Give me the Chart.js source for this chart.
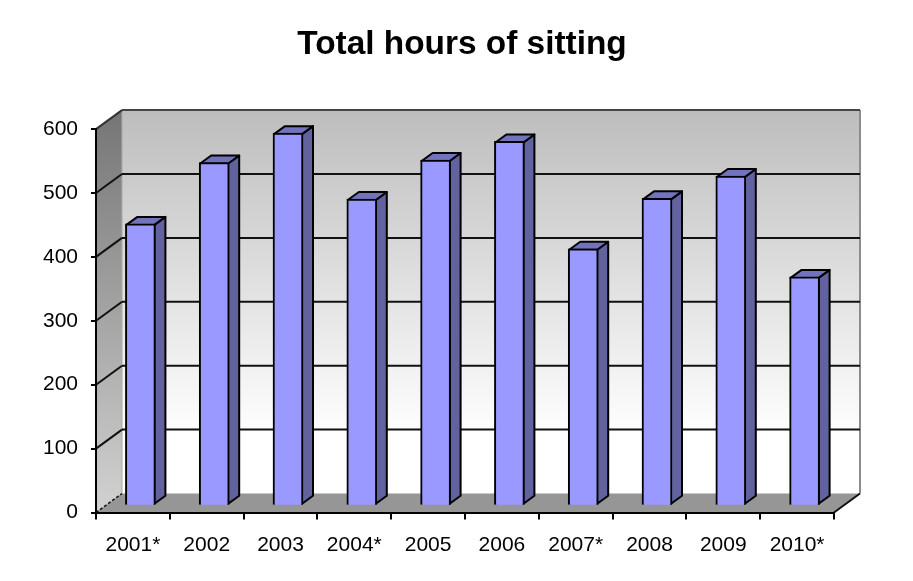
<!DOCTYPE html>
<html><head><meta charset="utf-8">
<style>html,body{margin:0;padding:0;background:#fff}canvas{display:block}</style>
<script src="https://cdn.jsdelivr.net/npm/chart.js@4"></script>
</head><body><canvas id="c" width="913" height="581"></canvas>
<script>
const categories = ['2001*','2002','2003','2004*','2005','2006','2007*','2008','2009','2010*'];
const hours = [441,537,583,480,541,570,402,481,516,358];
const yTicks = [0,100,200,300,400,500,600];
const titleText = 'Total hours of sitting';

const WALL_DX = 26, WALL_DY = -19;
const BAR_SHIFT_X = 7.5, BAR_SHIFT_Y = -6.8;
const BAR_DX = 11, BAR_DY = -8;

function poly(ctx, pts, fill, stroke, lw) {
  ctx.beginPath();
  pts.forEach((p,i)=> i ? ctx.lineTo(p[0],p[1]) : ctx.moveTo(p[0],p[1]));
  ctx.closePath();
  if (fill) { ctx.fillStyle = fill; ctx.fill(); }
  if (stroke) { ctx.strokeStyle = stroke; ctx.lineWidth = lw; ctx.lineJoin='round'; ctx.stroke(); }
}
function line(ctx,x0,y0,x1,y1,col,lw){ctx.beginPath();ctx.moveTo(x0,y0);ctx.lineTo(x1,y1);ctx.strokeStyle=col;ctx.lineWidth=lw;ctx.stroke();}

const walls = {
  id:'walls',
  beforeDraw(chart){
    const {ctx, chartArea:a, scales:{y}} = chart;
    const L=a.left,R=a.right,T=y.getPixelForValue(600),B=y.getPixelForValue(0);
    ctx.save();
    let g = ctx.createLinearGradient(0,T+WALL_DY,0,B+WALL_DY);
    g.addColorStop(0,'#bdbdbd'); g.addColorStop(0.85,'#ffffff'); g.addColorStop(1,'#ffffff');
    poly(ctx,[[L+WALL_DX,T+WALL_DY],[R+WALL_DX,T+WALL_DY],[R+WALL_DX,B+WALL_DY],[L+WALL_DX,B+WALL_DY]],g);
    g = ctx.createLinearGradient(0,T+WALL_DY,0,B);
    g.addColorStop(0,'#757575'); g.addColorStop(1,'#d2d2d2');
    poly(ctx,[[L,T],[L+WALL_DX,T+WALL_DY],[L+WALL_DX,B+WALL_DY],[L,B]],g);
    poly(ctx,[[L,B],[L+WALL_DX,B+WALL_DY],[R+WALL_DX,B+WALL_DY],[R,B]],'#969696');
    line(ctx,R+WALL_DX,T+WALL_DY,R+WALL_DX,B+WALL_DY,'#8c8c8c',2);
    line(ctx,L+WALL_DX,B+WALL_DY,L+WALL_DX,T+WALL_DY,'#aaaaaa',1);
    yTicks.forEach(v=>{
      const p=y.getPixelForValue(v);
      if(v>0 && v<600) line(ctx,L+WALL_DX,p+WALL_DY,R+WALL_DX,p+WALL_DY,'#111',2);
      if(v>0) line(ctx,L,p,L+WALL_DX,p+WALL_DY,v===600?'#333':'#111',2);
    });
    line(ctx,L+WALL_DX,T+WALL_DY,R+WALL_DX,T+WALL_DY,'#444',2);
    ctx.setLineDash([3,2]);
    line(ctx,L,B,L+WALL_DX,B+WALL_DY,'#111',1.5);
    ctx.setLineDash([]);
    line(ctx,R,B,R+WALL_DX,B+WALL_DY,'#111',2);
    ctx.restore();
  },
  beforeDatasetsDraw(chart){
    chart.ctx.save();
    chart.ctx.translate(BAR_SHIFT_X,BAR_SHIFT_Y);
    const ctx=chart.ctx;
    chart.getDatasetMeta(0).data.forEach(b=>{
      const l=b.x-b.width/2+1,r=b.x+b.width/2-1,t=b.y+1,bt=b.base-1;
      poly(ctx,[[r,t],[r+BAR_DX,t+BAR_DY],[r+BAR_DX,bt+BAR_DY],[r,bt]],'#62629f','#000',2);
      poly(ctx,[[l,t],[l+BAR_DX,t+BAR_DY],[r+BAR_DX,t+BAR_DY],[r,t]],'#7272bd','#000',2);
    });
  },
  afterDatasetsDraw(chart){ chart.ctx.restore(); }
};

new Chart(document.getElementById('c'),{
  type:'bar',
  data:{labels:categories,datasets:[{data:hours,backgroundColor:'#9999ff',borderColor:'#000',borderWidth:2,barThickness:30,clip:false}]},
  plugins:[walls],
  options:{
    responsive:false,animation:false,
    layout:{padding:{left:11,right:0,top:0,bottom:0}},
    plugins:{
      legend:{display:false},tooltip:{enabled:false},
      title:{display:true,text:titleText,color:'#000',font:{family:'"Liberation Sans"',size:33.4,weight:'bold',lineHeight:1.2},padding:{top:25,bottom:64}}
    },
    scales:{
      x:{
        grid:{drawOnChartArea:false,drawTicks:true,tickLength:7,color:'#000',lineWidth:2},
        border:{color:'#000',width:2},
        ticks:{color:'#000',font:{family:'"Liberation Sans"',size:21},padding:13,maxRotation:0,autoSkip:false},
        afterFit(s){s.height=68.5;}
      },
      y:{
        min:0,max:600,
        afterBuildTicks(s){s.ticks=yTicks.map(v=>({value:v}));},
        grid:{drawOnChartArea:false,drawTicks:true,tickLength:5,color:'#000',lineWidth:2},
        border:{color:'#000',width:2},
        ticks:{color:'#000',font:{family:'"Liberation Sans"',size:21},padding:13},
        afterFit(s){s.width=85;}
      },
      yR:{
        position:'right',display:true,
        grid:{display:false},border:{display:false},ticks:{display:false},
        afterFit(s){s.width=79;}
      }
    }
  }
});
</script></body></html>
